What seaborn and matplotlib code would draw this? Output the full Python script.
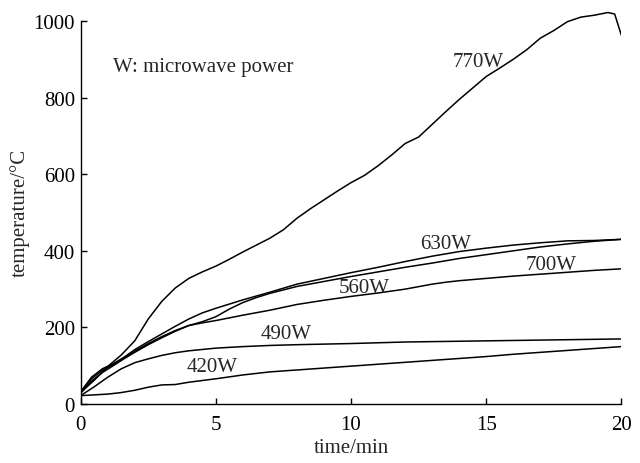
import pandas as pd
import matplotlib.pyplot as plt
import seaborn as sns

# 曲線データ (time/min, temperature/°C) - 図から読み取り
t_770 = [0, 0.5, 1, 1.5, 2, 2.5, 3, 3.5, 4, 4.5, 5, 5.5, 6, 6.5, 7, 7.5, 8, 8.5, 9, 9.5,
         10, 10.5, 11, 11.5, 12, 12.5, 13, 13.5, 14, 14.5, 15, 15.5, 16, 16.5, 17, 17.5,
         18, 18.5, 19, 19.5, 19.75, 20]
T_770 = [30, 62, 98, 128, 165, 222, 268, 303, 328, 345, 360, 378, 397, 415, 433, 455, 485, 510, 533, 556,
         578, 597, 622, 650, 680, 697, 730, 763, 795, 825, 855, 877, 900, 925, 955, 975,
         998, 1010, 1015, 1022, 1018, 962]

t_630 = [0, 0.4, 0.8, 1.2, 1.6, 2, 2.5, 3, 3.5, 4, 4.5, 5, 6, 7, 8, 9, 10, 11, 12, 13, 14, 15, 16, 17, 18, 19, 20]
T_630 = [32, 70, 92, 105, 122, 142, 163, 183, 203, 222, 238, 250, 272, 292, 313, 328, 343, 357, 372, 386, 398, 407, 415, 421, 426, 427, 430]

t_700 = [0, 0.4, 0.8, 1.2, 1.6, 2, 2.5, 3, 3.5, 4, 4.5, 5, 5.5, 6, 6.5, 7, 8, 9, 10, 11, 12, 13, 14, 15, 16, 17, 18, 19, 20]
T_700 = [28, 60, 82, 100, 118, 135, 155, 173, 190, 205, 215, 228, 248, 265, 278, 289, 307, 320, 333, 345, 357, 368, 380, 390, 400, 410, 418, 425, 430]

t_560 = [0, 0.4, 0.8, 1.2, 1.6, 2, 2.5, 3, 3.5, 4, 4.5, 5, 6, 7, 8, 9, 10, 11, 12, 13, 13.5, 14, 15, 16, 17, 18, 19, 20]
T_560 = [30, 66, 88, 103, 120, 138, 158, 176, 192, 205, 212, 218, 232, 245, 260, 271, 281, 290, 300, 313, 318, 322, 328, 334, 339, 344, 349, 353]

t_490 = [0, 0.5, 1, 1.5, 2, 2.5, 3, 3.5, 4, 5, 6, 7, 8, 10, 12, 14, 16, 18, 20]
T_490 = [22, 45, 70, 92, 108, 118, 127, 134, 139, 146, 150, 153, 155, 158, 162, 164, 166, 168, 170]

t_420 = [0, 1, 1.5, 2, 2.5, 3, 3.5, 4, 5, 6, 7, 8, 9, 10, 11, 12, 13, 14, 15, 16, 17, 18, 19, 20]
T_420 = [22, 26, 30, 36, 44, 50, 51, 57, 66, 76, 84, 89, 94, 99, 104, 109, 114, 119, 124, 130, 135, 140, 145, 150]

series = [
    ('770W', t_770, T_770, (14.7, 893)),
    ('630W', t_630, T_630, (13.5, 420)),
    ('700W', t_700, T_700, (17.4, 363)),
    ('560W', t_560, T_560, (10.5, 303)),
    ('490W', t_490, T_490, (7.6, 185)),
    ('420W', t_420, T_420, (4.87, 99)),
]

sns.set_style('ticks')
plt.rcParams['font.family'] = ['Liberation Serif', 'DejaVu Serif']

fig = plt.figure(figsize=(6.4, 4.64), dpi=100)
ax = fig.add_axes([0.126, 0.127, 0.845, 0.867])

for name, t, T, (lx, ly) in series:
    df = pd.DataFrame({'time': t, 'temp': T})
    sns.lineplot(data=df, x='time', y='temp', ax=ax, color='black', lw=1.1, sort=False)
    ax.text(lx, ly, name, fontsize=15, ha='center', va='center')

ax.text(1.2, 880, 'W: microwave power', fontsize=15, ha='left', va='center')

ax.set_xlim(0, 20)
ax.set_ylim(0, 1050)
ax.set_xticks([0, 5, 10, 15, 20])
ax.set_yticks([0, 200, 400, 600, 800, 1000])
ax.spines['left'].set_bounds(0, 1000)
ax.spines['top'].set_visible(False)
ax.spines['right'].set_visible(False)
for s in ['left', 'bottom']:
    ax.spines[s].set_linewidth(1.0)
    ax.spines[s].set_color('black')
ax.tick_params(direction='in', length=4, width=1.0, labelsize=15, colors='black')
ax.tick_params(axis='x', pad=8)
ax.tick_params(axis='y', pad=4)
ax.set_xlabel('time/min', fontsize=15, labelpad=3)
ax.set_ylabel('temperature/°C', fontsize=15, labelpad=0)
ax.yaxis.set_label_coords(-0.094, 0.478)

fig.savefig('out.png', dpi=100)
